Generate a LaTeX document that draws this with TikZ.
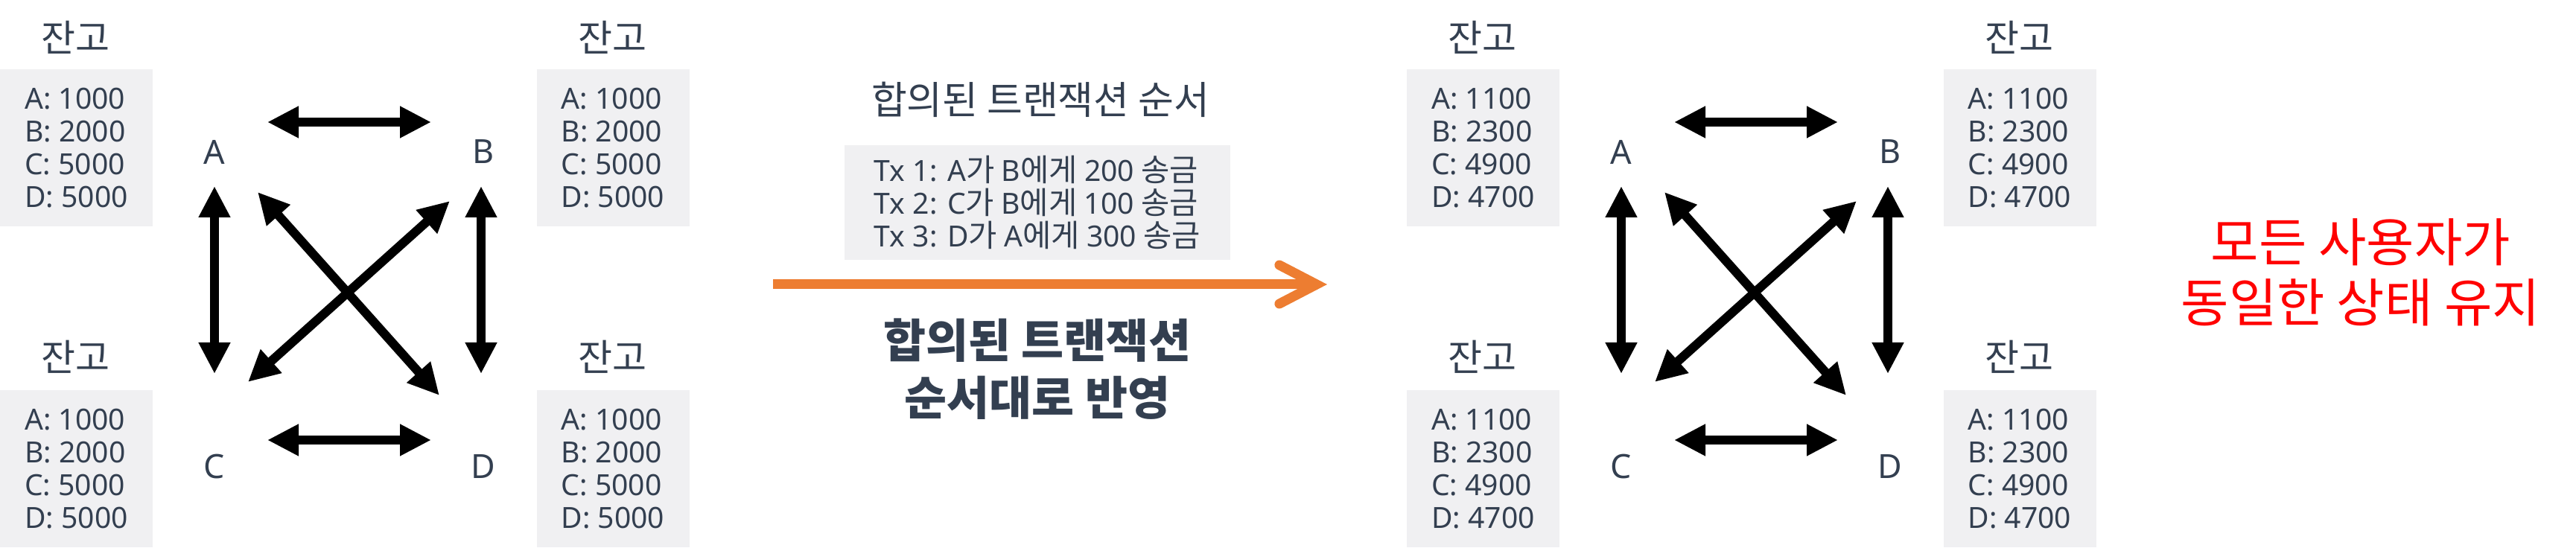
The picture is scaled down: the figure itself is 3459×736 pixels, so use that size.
\documentclass[tikz,border=0pt]{standalone}
\usepackage{fontspec}
\setmainfont{Noto Sans CJK KR}
\newfontfamily\lat[Scale=0.94]{Noto Sans}
\usetikzlibrary{arrows.meta,calc}
\definecolor{ink}{RGB}{51,63,80}
\definecolor{boxgray}{RGB}{240,240,242}
\definecolor{orangeline}{RGB}{237,125,49}
\begin{document}
\begin{tikzpicture}[x=0.25pt,y=-0.25pt,
  title/.style={text=ink,font=\fontsize{12.5pt}{15pt}\selectfont},
  lbl/.style={text=ink,font=\lat\fontsize{11.9pt}{14pt}\selectfont},
  balbox/.style={fill=boxgray,text=ink,font=\lat\fontsize{10.4pt}{11pt}\selectfont,align=left,
    inner sep=0pt,minimum width=51.25pt,minimum height=52.75pt},
  dbl/.style={line width=3pt,{Triangle[length=10.5pt,width=10pt]}-{Triangle[length=10.5pt,width=10pt]}}]
\useasboundingbox (0,0) rectangle (3459,736);
% two ledgers: before and after
\foreach \g/\ox/\va/\vb/\vc/\vd in {L/0/1000/2000/5000/5000,R/1889/1100/2300/4900/4700}{
\node[balbox] (balA\g) at (\ox+102.5,198.5) {A: \va\\B: \vb\\C: \vc\\D: \vd};
\node[balbox] (balB\g) at (\ox+823,198.5) {A: \va\\B: \vb\\C: \vc\\D: \vd};
\node[balbox] (balC\g) at (\ox+102.5,630) {A: \va\\B: \vb\\C: \vc\\D: \vd};
\node[balbox] (balD\g) at (\ox+823,630) {A: \va\\B: \vb\\C: \vc\\D: \vd};
\node[title] at (\ox+101,50) {잔고};
\node[title] at (\ox+822,50) {잔고};
\node[title] at (\ox+101,479) {잔고};
\node[title] at (\ox+822,479) {잔고};
\node[lbl] (A\g) at (\ox+288,204) {A};
\node[lbl] (B\g) at (\ox+649,204) {B};
\node[lbl] (C\g) at (\ox+288,627) {C};
\node[lbl] (D\g) at (\ox+649,627) {D};
\draw[dbl] ($(A\g)+(71,-40)$) -- ($(B\g)+(-70,-40)$);
\draw[dbl] ($(C\g)+(71,-36)$) -- ($(D\g)+(-70,-36)$);
\draw[dbl] ($(A\g)+(0,46)$) -- ($(C\g)+(0,-125)$);
\draw[dbl] ($(B\g)+(-3,46)$) -- ($(D\g)+(-3,-125)$);
\draw[dbl] ($(A\g)+(58,54)$) -- ($(D\g)+(-59,-96)$);
\draw[dbl] ($(B\g)+(-45,66)$) -- ($(C\g)+(45,-114)$);
}
% agreed order in the middle
\node[text=ink,font=\fontsize{13pt}{15pt}\selectfont] (order) at (1397,134) {합의된 트랜잭션 순서};
\node[fill=boxgray,text=ink,font=\fontsize{10.4pt}{11pt}\selectfont,align=left,
  minimum width=129.5pt,minimum height=38.5pt] (txs) at (1393,272)
  {{\lat Tx 1: A}가 {\lat B}에게 {\lat 200} 송금\\
   {\lat Tx 2: C}가 {\lat B}에게 {\lat 100} 송금\\
   {\lat Tx 3: D}가 {\lat A}에게 {\lat 300} 송금};
\coordinate (from) at (1038,382);
\coordinate (to) at (1782,382);
\draw[orangeline,line width=3.25pt,-{Straight Barb[length=12.5pt,width=13pt,line cap=round]}] (from) -- (to);
\node[text=ink,font=\bfseries\fontsize{15.5pt}{19.25pt}\selectfont,align=center] (apply) at (1393,496)
  {합의된 트랜잭션\\순서대로 반영};
\node[text=red,font=\fontsize{17.5pt}{20.25pt}\selectfont,align=center] (same) at (3170,366)
  {모든 사용자가\\동일한 상태 유지};
\end{tikzpicture}
\end{document}
